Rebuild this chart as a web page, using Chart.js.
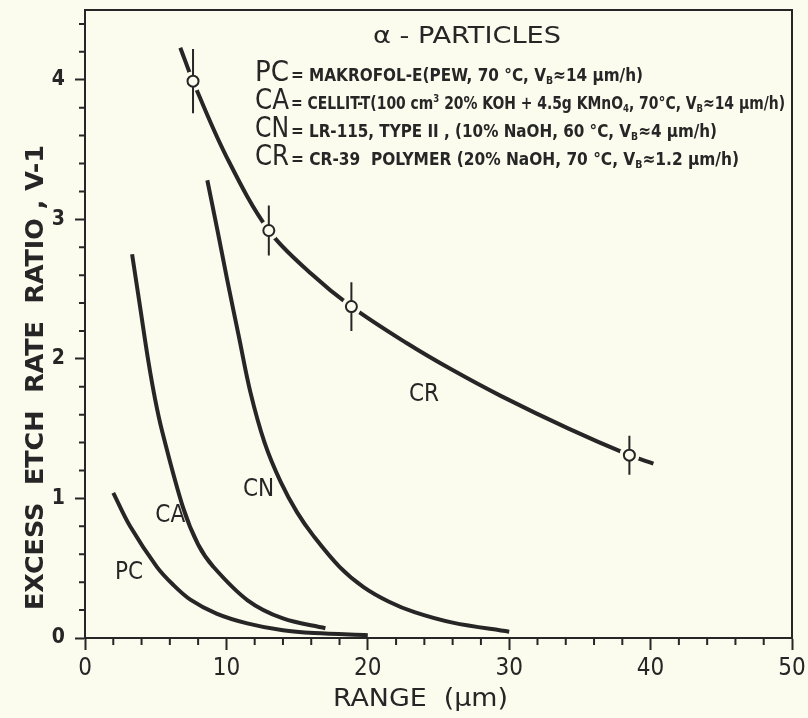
<!DOCTYPE html>
<html><head><meta charset="utf-8">
<script src="https://cdn.jsdelivr.net/npm/chart.js@4"></script>
<style>html,body{margin:0;padding:0;background:#fbfbee;overflow:hidden;} #c{display:block;width:808px;height:718px;}</style>
</head><body><canvas id="c" width="808" height="718"></canvas>
<script>
// ---- data ----
const pcX = [2.0, 3.19, 5.08, 6.2, 7.45, 9.3, 11.47, 14.0, 16.2, 20.0];
const pcY = [1.04, 0.80, 0.51, 0.385, 0.275, 0.175, 0.105, 0.055, 0.035, 0.02];
const caX = [3.33, 3.9, 4.47, 4.96, 5.46, 6.95, 8.0, 9.08, 11.5, 14.0, 17.0];
const caY = [2.75, 2.37, 1.99, 1.71, 1.48, 0.93, 0.67, 0.51, 0.27, 0.14, 0.07];
const cnX = [8.65, 9.35, 10.05, 10.9, 11.7, 12.7, 13.83, 15.0, 16.17, 18.0, 19.7, 21.5, 23.3, 26.0, 30.0];
const cnY = [3.28, 2.93, 2.57, 2.15, 1.76, 1.40, 1.12, 0.90, 0.73, 0.51, 0.365, 0.26, 0.185, 0.11, 0.045];
const crX = [6.74, 7.64, 10.0, 13.0, 16.0, 18.84, 22.8, 25.9, 29.4, 34.2, 38.5, 40.2];
const crY = [4.23, 3.99, 3.45, 2.92, 2.61, 2.375, 2.11, 1.925, 1.735, 1.50, 1.31, 1.25];
const measX = [7.64, 13.0, 18.84, 38.5];
const measY = [3.99, 2.92, 2.375, 1.31];
const measErr = [0.23, 0.18, 0.175, 0.14];
const xTickLabels = ['0', '10', '20', '30', '40', '50'];
const yTickLabels = ['0', '1', '2', '3', '4'];
const curveNames = ['PC', 'CA', 'CN', 'CR'];

// ---- styling ----
const INK = '#262626';
const PAPER = '#fbfbee';
const COND = '"DejaVu Sans Condensed", "Liberation Sans Narrow", "DejaVu Sans", sans-serif';

const pts = (xs, ys) => xs.map((x, i) => ({x, y: ys[i]}));
const errPts = [];
measX.forEach((x, i) => {
  errPts.push({x, y: measY[i] - measErr[i]});
  errPts.push({x, y: measY[i] + measErr[i]});
  errPts.push({x: null, y: null});
});

const curveStyle = {showLine: true, borderColor: INK, borderWidth: 4, pointRadius: 0,
  pointHoverRadius: 0, tension: 0.35, fill: false, borderCapStyle: 'butt', order: 5};

// label anchors in data units
const curveLabelPos = {PC: [3.12, 0.466], CA: [6.03, 0.875], CN: [12.27, 1.06], CR: [23.97, 1.74]};

function drawFit(ctx, segs, x, y, targetW) {
  let total = 0;
  segs.forEach(s => { ctx.font = s.font; total += ctx.measureText(s.t).width; });
  const k = targetW ? targetW / total : 1;
  ctx.save();
  ctx.translate(x, y);
  ctx.scale(k, 1);
  let cx = 0;
  segs.forEach(s => {
    ctx.font = s.font;
    ctx.fillText(s.t, cx, s.dy || 0);
    cx += ctx.measureText(s.t).width;
  });
  ctx.restore();
}

const decor = {
  id: 'decor',
  beforeDraw(chart) {
    const ctx = chart.ctx;
    ctx.save();
    ctx.fillStyle = PAPER;
    ctx.fillRect(0, 0, chart.width, chart.height);
    ctx.restore();
  },
  afterDraw(chart) {
    const ctx = chart.ctx, a = chart.chartArea;
    const xs = chart.scales.x, ys = chart.scales.y;
    ctx.save();
    ctx.strokeStyle = INK;
    ctx.lineWidth = 2;
    ctx.strokeRect(a.left, a.top, a.right - a.left, a.bottom - a.top);
    // minor ticks
    ctx.beginPath();
    for (let v = 2; v < 50; v += 2) {
      if (v % 10 === 0) continue;
      const px = xs.getPixelForValue(v);
      ctx.moveTo(px, a.bottom); ctx.lineTo(px, a.bottom + 7);
    }
    for (let i = 1; i <= 22; i++) {
      const v = i * 0.2;
      if (i % 5 === 0) continue;
      const py = ys.getPixelForValue(v);
      ctx.moveTo(a.left, py); ctx.lineTo(a.left - 6, py);
    }
    ctx.stroke();

    ctx.fillStyle = INK;
    ctx.textBaseline = 'alphabetic';
    ctx.textAlign = 'left';
    // title and legend text
    drawFit(ctx, [{t: 'α - PARTICLES', font: '23px ' + COND}], 373, 43, 188);
    const big = '28px ' + COND, sm = 'bold 18px ' + COND, sub = 'bold 11px ' + COND;
    const lines = [
      ['PC', [{t: '= MAKROFOL-E(PEW, 70 °C, V', font: sm}, {t: 'B', font: sub, dy: 3}, {t: '≈14 μm/h)', font: sm}], 352],
      ['CA', [{t: '= CELLIT-T(100 cm', font: sm}, {t: '3', font: sub, dy: -7}, {t: ' 20% KOH + 4.5g KMnO', font: sm}, {t: '4', font: sub, dy: 3}, {t: ', 70°C, V', font: sm}, {t: 'B', font: sub, dy: 3}, {t: '≈14 μm/h)', font: sm}], 494],
      ['CN', [{t: '= LR-115, TYPE II , (10% NaOH, 60 °C, V', font: sm}, {t: 'B', font: sub, dy: 3}, {t: '≈4 μm/h)', font: sm}], 426],
      ['CR', [{t: '= CR-39  POLYMER (20% NaOH, 70 °C, V', font: sm}, {t: 'B', font: sub, dy: 3}, {t: '≈1.2 μm/h)', font: sm}], 448]
    ];
    lines.forEach((ln, i) => {
      const yb = 81 + i * 28;
      drawFit(ctx, [{t: ln[0], font: big}], 255, yb, 34);
      drawFit(ctx, ln[1], 291, yb, ln[2]);
    });
    // curve labels
    ctx.textAlign = 'center';
    ctx.textBaseline = 'middle';
    ctx.font = '24px ' + COND;
    curveNames.forEach(n => {
      const p = curveLabelPos[n];
      ctx.fillText(n, xs.getPixelForValue(p[0]), ys.getPixelForValue(p[1]));
    });
    // axis titles
    ctx.textAlign = 'left';
    ctx.textBaseline = 'alphabetic';
    drawFit(ctx, [{t: 'RANGE  (μm)', font: '24px ' + COND}], 333, 706, 175);
    ctx.save();
    ctx.translate(43, 610);
    ctx.rotate(-Math.PI / 2);
    drawFit(ctx, [{t: 'EXCESS  ETCH  RATE  RATIO , V-1', font: 'bold 25px ' + COND}], 0, 0, 465);
    ctx.restore();
    ctx.restore();
  }
};

new Chart(document.getElementById('c'), {
  type: 'scatter',
  data: {
    datasets: [
      {label: 'PC', data: pts(pcX, pcY), ...curveStyle},
      {label: 'CA', data: pts(caX, caY), ...curveStyle},
      {label: 'CN', data: pts(cnX, cnY), ...curveStyle},
      {label: 'CR', data: pts(crX, crY), ...curveStyle},
      {label: 'gap', data: pts(measX, measY), showLine: false, pointRadius: 10, pointBackgroundColor: PAPER,
       pointBorderWidth: 0, pointBorderColor: PAPER, order: 4},
      {label: 'err', data: errPts, showLine: true, spanGaps: false, borderColor: INK, borderWidth: 2,
       pointRadius: 0, tension: 0, order: 3},
      {label: 'meas', data: pts(measX, measY), showLine: false, pointRadius: 5.5, pointBackgroundColor: PAPER,
       pointBorderColor: INK, pointBorderWidth: 2, order: 2}
    ]
  },
  options: {
    responsive: false,
    maintainAspectRatio: false,
    animation: false,
    devicePixelRatio: 1,
    layout: {padding: {top: 10, right: 16, left: 0, bottom: 0}},
    plugins: {legend: {display: false}, tooltip: {enabled: false}},
    scales: {
      x: {
        type: 'linear', min: 0, max: 50,
        afterFit(s) { s.height = 80; s.paddingLeft = 0; s.paddingRight = 0; },
        border: {display: true, color: INK, width: 2},
        grid: {drawOnChartArea: false, drawTicks: true, tickLength: 12, tickColor: INK, tickWidth: 2},
        ticks: {stepSize: 10, color: INK, padding: 4, font: {family: COND, size: 24},
          callback: (v) => xTickLabels[v / 10]}
      },
      y: {
        type: 'linear', min: 0, max: 4.5,
        afterFit(s) { s.width = 85; s.paddingTop = 0; s.paddingBottom = 0; },
        border: {display: true, color: INK, width: 2},
        grid: {drawOnChartArea: false, drawTicks: true, tickLength: 10, tickColor: INK, tickWidth: 2},
        ticks: {stepSize: 1, includeBounds: false, color: INK, padding: 10, font: {family: COND, size: 21, weight: 'bold'},
          callback: (v) => Number.isInteger(v) ? yTickLabels[v] : ''}
      }
    }
  },
  plugins: [decor]
});
</script>
</body></html>
